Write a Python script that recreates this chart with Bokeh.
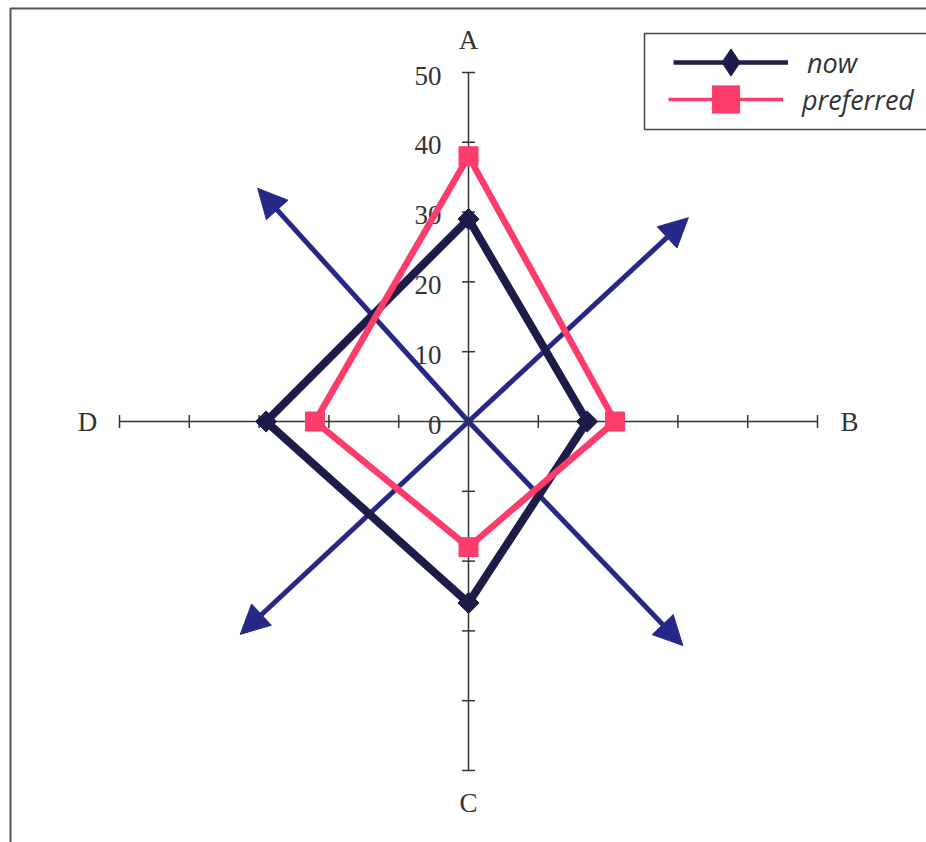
import math
from bokeh.plotting import figure
from bokeh.models import Range1d, Arrow, NormalHead, Legend, LegendItem
from bokeh.core.properties import value
from bokeh.embed import file_html
from bokeh.resources import INLINE

# ---- data ----
categories = ["A", "B", "C", "D"]
now = [29, 17, 26, 29]
preferred = [38, 21, 18, 22]
tick_values = [10, 20, 30, 40, 50]
label_values = [0, 10, 20, 30, 40, 50]
tick_labels = ["0", "10", "20", "30", "40", "50"]
arrow_tip_x = [-30.2, 31.5, -32.7, 30.7]
arrow_tip_y = [33.4, 29.2, -30.5, -32.1]

# directions of the category axes (A up, B right, C down, D left)
dir_x = [0, 1, 0, -1]
dir_y = [1, 0, -1, 0]

NOW_C = "#1d1b48"
PREF_C = "#fc3c6b"
ARROW_C = "#262888"
AXIS_C = "#333333"

W, H = 926, 842
S = 6.98           # pixels per unit
CX, CY = 468, 421  # canvas pixel of the centre

def cx(px_):
    return (px_ - CX) / S

def cy(py_):
    return (CY - py_) / S

p = figure(width=W, height=H, output_backend="svg", toolbar_location=None,
           x_range=Range1d(-CX / S, (W - CX) / S),
           y_range=Range1d(-(H - CY) / S, CY / S),
           x_axis_location=None, y_axis_location=None,
           min_border=0, outline_line_color=None)
p.grid.visible = False
p.background_fill_color = "white"

# outer frame (only left/top inside the picture)
p.quad(left=[cx(10)], right=[cx(2000)], top=[cy(8)], bottom=[cy(2000)],
       fill_alpha=0, line_color="#555555", line_width=2)

# arrows
for tx, ty in zip(arrow_tip_x, arrow_tip_y):
    p.add_layout(Arrow(end=NormalHead(size=29, fill_color=ARROW_C, line_color=ARROW_C),
                       x_start=0, y_start=0, x_end=tx, y_end=ty,
                       line_color=ARROW_C, line_width=5, level="underlay"))

# axis lines
rmax = max(tick_values)
p.segment([0] * 4, [0] * 4, [d * rmax for d in dir_x], [d * rmax for d in dir_y],
          line_color=AXIS_C, line_width=1.5)

# tick marks
h = 6.5 / S
tx0, ty0, tx1, ty1 = [], [], [], []
for dx, dy in zip(dir_x, dir_y):
    for t in tick_values:
        px_, py_ = dx * t, dy * t
        tx0.append(px_ - dy * h); ty0.append(py_ - dx * h)
        tx1.append(px_ + dy * h); ty1.append(py_ + dx * h)
p.segment(tx0, ty0, tx1, ty1, line_color=AXIS_C, line_width=1.5)

# tick labels on A axis
p.text(x=[0] * len(label_values), y=label_values, text=tick_labels,
       x_offset=-27, y_offset=3, text_align="right", text_baseline="middle",
       text_font=value("Liberation Serif"), text_font_size="27px", text_color="#333333")

# category labels
R = 54.6
p.text(x=[d * R for d in dir_x], y=[d * R for d in dir_y], text=categories,
       text_align="center", text_baseline="middle",
       text_font=value("Liberation Serif"), text_font_size="27px", text_color="#333333")

# series
def poly(vals):
    xs = [v * d for v, d in zip(vals, dir_x)]
    ys = [v * d for v, d in zip(vals, dir_y)]
    return xs, ys

nx, ny = poly(now)
px, py = poly(preferred)

p.line(nx + nx[:1], ny + ny[:1], line_color=NOW_C, line_width=8)
p.line(px + px[:1], py + py[:1], line_color=PREF_C, line_width=6.5)
p.scatter(nx, ny, marker="square", angle=math.pi / 4, size=15, color=NOW_C)
p.scatter(px, py, marker="square", size=19, color=PREF_C)

# legend box
p.quad(left=[cx(644)], right=[cx(2000)], top=[cy(33)], bottom=[cy(129)],
       fill_color="white", line_color="#444444", line_width=1.5)

# legend-only renderers (hidden, thinner strokes as in the key)
now_key_line = p.line(nx, ny, line_color=NOW_C, line_width=4.5, visible=False)
now_key_pt = p.scatter(nx, ny, marker="diamond", color=NOW_C, visible=False)
pref_key_line = p.line(px, py, line_color=PREF_C, line_width=3.5, visible=False)
pref_key_pt = p.scatter(px, py, marker="square", color=PREF_C, visible=False)

G = 68
def add_key(label, rends, left, center_y, standoff):
    lg = Legend(items=[LegendItem(label=label, renderers=rends)],
                location=(left, H - (center_y + G / 2)),
                glyph_width=115, glyph_height=G, label_height=G,
                spacing=0, padding=0, margin=0,
                border_line_color=None, background_fill_alpha=0,
                label_standoff=standoff, label_text_font="Open Sans",
                label_text_font_style="italic", label_text_font_size="27px",
                label_text_color="#333333")
    p.add_layout(lg)

add_key("now", [now_key_line, now_key_pt], 673, 62, 19)
add_key("preferred", [pref_key_line, pref_key_pt], 668, 99, 19)

open("out.html", "w").write(file_html(p, INLINE))
